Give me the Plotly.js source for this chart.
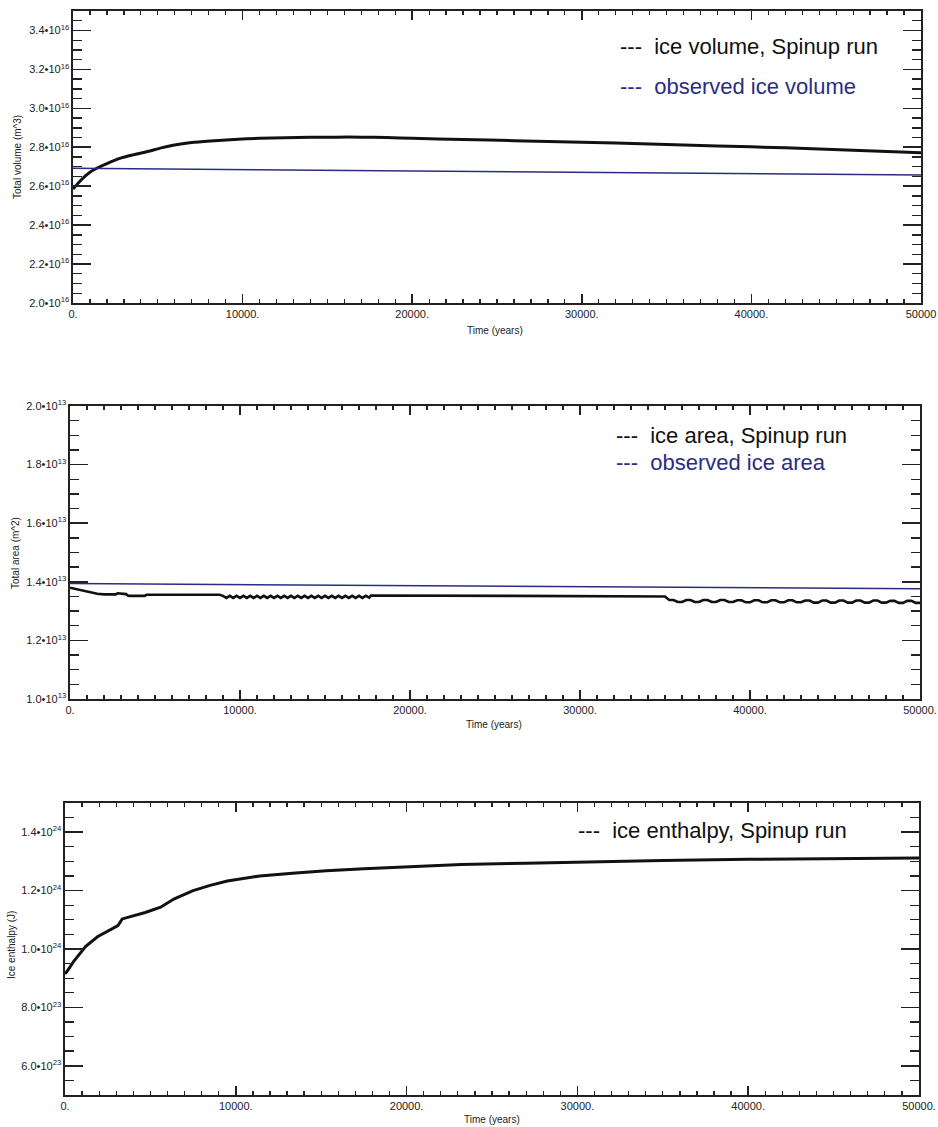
<!DOCTYPE html>
<html>
<head>
<meta charset="utf-8">
<script src="https://cdn.plot.ly/plotly-3.0.1.min.js"></script>
<style>
html,body{margin:0;padding:0;background:#fff;}
#chart{width:938px;height:1127px;}
</style>
</head>
<body>
<div id="chart"></div>
<script>
// ---------- DATA ----------
const timeTicks = [0, 10000, 20000, 30000, 40000, 50000];
const timeTickText1 = ["0.", "10000.", "20000.", "30000.", "40000.", "50000"];
const timeTickText = ["0.", "10000.", "20000.", "30000.", "40000.", "50000."];

// Panel 1: total volume (m^3)
const volTicks = [2.0e16, 2.2e16, 2.4e16, 2.6e16, 2.8e16, 3.0e16, 3.2e16, 3.4e16];
const volTickText = ["2.0•10<sup>16</sup>", "2.2•10<sup>16</sup>", "2.4•10<sup>16</sup>", "2.6•10<sup>16</sup>",
                     "2.8•10<sup>16</sup>", "3.0•10<sup>16</sup>", "3.2•10<sup>16</sup>", "3.4•10<sup>16</sup>"];
const volTime = [0, 300, 700, 1000, 1400, 2000, 2800, 3500, 4400, 5200, 5900, 7000, 8100, 9500, 11000,
                 12500, 14000, 15500, 17000, 18500, 20000, 23000, 26000, 30000, 34000, 38000, 42000, 46000, 50000];
const volSpinup = [2.585e16, 2.615e16, 2.650e16, 2.672e16, 2.692e16, 2.716e16, 2.744e16, 2.760e16, 2.778e16,
                   2.797e16, 2.810e16, 2.824e16, 2.832e16, 2.840e16, 2.846e16, 2.849e16, 2.851e16, 2.852e16,
                   2.852e16, 2.850e16, 2.846e16, 2.840e16, 2.834e16, 2.826e16, 2.817e16, 2.807e16, 2.797e16,
                   2.785e16, 2.772e16];
const volObsTime = [0, 50000];
const volObserved = [2.692e16, 2.657e16];

// Panel 2: total area (m^2)
const areaTicks = [1.0e13, 1.2e13, 1.4e13, 1.6e13, 1.8e13, 2.0e13];
const areaTickText = ["1.0•10<sup>13</sup>", "1.2•10<sup>13</sup>", "1.4•10<sup>13</sup>",
                      "1.6•10<sup>13</sup>", "1.8•10<sup>13</sup>", "2.0•10<sup>13</sup>"];
const areaTime = [0, 300, 600, 900, 1200, 1600, 2000, 2700, 2800, 3300, 3400, 3500, 4400, 4500, 8800,
  9000, 9200, 9400, 9600, 9800, 10000, 10200, 10400, 10600, 10800, 11000, 11200, 11400, 11600, 11800,
  12000, 12200, 12400, 12600, 12800, 13000, 13200, 13400, 13600, 13800, 14000, 14200, 14400, 14600,
  14800, 15000, 15200, 15400, 15600, 15800, 16000, 16200, 16400, 16600, 16800, 17000, 17200, 17400,
  17600, 17700, 26000, 35000,
  35250, 35500, 35750, 36000, 36250, 36500, 36750, 37000, 37250, 37500, 37750, 38000, 38250, 38500,
  38750, 39000, 39250, 39500, 39750, 40000, 40250, 40500, 40750, 41000, 41250, 41500, 41750, 42000,
  42250, 42500, 42750, 43000, 43250, 43500, 43750, 44000, 44250, 44500, 44750, 45000, 45250, 45500,
  45750, 46000, 46250, 46500, 46750, 47000, 47250, 47500, 47750, 48000, 48250, 48500, 48750, 49000,
  49250, 49500, 49750, 50000];
const areaSpinup = [1.380e13, 1.376e13, 1.371e13, 1.366e13, 1.362e13, 1.359e13, 1.357e13, 1.357e13, 1.361e13,
  1.358e13, 1.353e13, 1.352e13, 1.352e13, 1.356e13, 1.356e13,
  1.352e13, 1.345e13, 1.352e13, 1.345e13, 1.352e13, 1.345e13, 1.352e13, 1.345e13, 1.352e13, 1.345e13,
  1.352e13, 1.345e13, 1.352e13, 1.345e13, 1.352e13, 1.345e13, 1.352e13, 1.345e13, 1.352e13, 1.345e13,
  1.352e13, 1.345e13, 1.352e13, 1.345e13, 1.352e13, 1.345e13, 1.352e13, 1.345e13, 1.352e13, 1.345e13,
  1.352e13, 1.345e13, 1.352e13, 1.345e13, 1.352e13, 1.345e13, 1.352e13, 1.345e13, 1.352e13, 1.345e13,
  1.352e13, 1.345e13, 1.352e13, 1.346e13, 1.353e13, 1.352e13, 1.350e13,
  1.338e13, 1.338e13, 1.331e13, 1.331e13, 1.338e13, 1.338e13, 1.331e13, 1.331e13, 1.338e13, 1.338e13,
  1.331e13, 1.331e13, 1.338e13, 1.338e13, 1.331e13, 1.331e13, 1.337e13, 1.337e13, 1.330e13, 1.330e13,
  1.337e13, 1.337e13, 1.330e13, 1.330e13, 1.337e13, 1.337e13, 1.330e13, 1.330e13, 1.337e13, 1.337e13,
  1.330e13, 1.330e13, 1.336e13, 1.336e13, 1.329e13, 1.329e13, 1.336e13, 1.336e13, 1.329e13, 1.329e13,
  1.336e13, 1.336e13, 1.329e13, 1.329e13, 1.336e13, 1.336e13, 1.329e13, 1.329e13, 1.336e13, 1.336e13,
  1.329e13, 1.329e13, 1.335e13, 1.335e13, 1.328e13, 1.328e13, 1.335e13, 1.335e13, 1.328e13, 1.328e13,
  1.335e13, 1.335e13, 1.328e13, 1.328e13, 1.334e13];
const areaObsTime = [0, 50000];
const areaObserved = [1.394e13, 1.376e13];

// Panel 3: ice enthalpy (J)
const entTicks = [6.0e23, 8.0e23, 1.0e24, 1.2e24, 1.4e24];
const entTickText = ["6.0•10<sup>23</sup>", "8.0•10<sup>23</sup>", "1.0•10<sup>24</sup>",
                     "1.2•10<sup>24</sup>", "1.4•10<sup>24</sup>"];
const entTime = [0, 100, 500, 1200, 1900, 2800, 3100, 3350, 3800, 4700, 5600, 6400, 7500, 8500, 9500,
                 11400, 13500, 15300, 17500, 19300, 23200, 27000, 30000, 35000, 40000, 45000, 50000];
const entSpinup = [0.915e24, 0.922e24, 0.957e24, 1.008e24, 1.042e24, 1.072e24, 1.080e24, 1.103e24, 1.110e24,
                   1.125e24, 1.143e24, 1.172e24, 1.200e24, 1.218e24, 1.233e24, 1.250e24, 1.260e24, 1.268e24,
                   1.275e24, 1.280e24, 1.289e24, 1.294e24, 1.298e24, 1.303e24, 1.307e24, 1.310e24, 1.312e24];

// ---------- LAYOUT ----------
const W = 938, H = 1127;
const FONT = "Liberation Sans, Arial, Helvetica, sans-serif";
const BLUE = "#2b2d82";
const INK = "#222";
const px = v => v / W;
const py = v => 1 - v / H;

function xAxis(domain, anchor, ticktext) {
  return {
    domain: domain, anchor: anchor, range: [0, 50000],
    tickmode: "array", tickvals: timeTicks, ticktext: ticktext,
    ticks: "inside", ticklen: 9, tickwidth: 1.5, tickcolor: INK,
    minor: {tickmode: "linear", tick0: 0, dtick: 1000, ticks: "inside", ticklen: 4, tickwidth: 1.3, tickcolor: INK},
    showline: true, linecolor: INK, linewidth: 1.6, mirror: "ticks",
    showgrid: false, zeroline: false,
    tickfont: {family: FONT, size: 11, color: INK}
  };
}
function yAxis(domain, anchor, range, tickvals, ticktext, minorStep) {
  return {
    domain: domain, anchor: anchor, range: range,
    tickmode: "array", tickvals: tickvals, ticktext: ticktext,
    ticks: "inside", ticklen: 18, tickwidth: 1.6, tickcolor: INK,
    minor: {tickmode: "linear", tick0: 0, dtick: minorStep, ticks: "inside", ticklen: 9, tickwidth: 1.4, tickcolor: INK},
    showline: true, linecolor: INK, linewidth: 1.6, mirror: "ticks",
    showgrid: false, zeroline: false,
    tickfont: {family: FONT, size: 11, color: INK}
  };
}

const data = [
  {x: volTime, y: volSpinup, xaxis: "x", yaxis: "y", mode: "lines", line: {color: "#111", width: 3, shape: "spline", smoothing: 0.6}},
  {x: volObsTime, y: volObserved, xaxis: "x", yaxis: "y", mode: "lines", line: {color: BLUE, width: 1.5}},
  {x: areaTime, y: areaSpinup, xaxis: "x2", yaxis: "y2", mode: "lines", line: {color: "#111", width: 2.6}},
  {x: areaObsTime, y: areaObserved, xaxis: "x2", yaxis: "y2", mode: "lines", line: {color: BLUE, width: 1.5}},
  {x: entTime, y: entSpinup, xaxis: "x3", yaxis: "y3", mode: "lines", line: {color: "#111", width: 3}}
];

function ann(text, x, y, size, color, angle) {
  return {text: text, x: px(x), y: py(y), xref: "paper", yref: "paper",
          xanchor: angle ? "center" : "left", yanchor: "middle", showarrow: false,
          textangle: angle || 0, font: {family: FONT, size: size, color: color}};
}
function centered(text, x, y, size) {
  return {text: text, x: px(x), y: py(y), xref: "paper", yref: "paper",
          xanchor: "center", yanchor: "middle", showarrow: false,
          font: {family: FONT, size: size, color: INK}};
}

const layout = {
  width: W, height: H,
  margin: {l: 0, r: 0, t: 0, b: 0},
  paper_bgcolor: "#fff", plot_bgcolor: "#fff",
  showlegend: false,
  xaxis: xAxis([px(73), px(921)], "y", timeTickText1),
  yaxis: yAxis([py(303), py(11)], "x", [2.0e16, 3.5e16], volTicks, volTickText, 0.05e16),
  xaxis2: xAxis([px(70), px(920)], "y2", timeTickText),
  yaxis2: yAxis([py(699), py(406)], "x2", [1.0e13, 2.0e13], areaTicks, areaTickText, 0.05e13),
  xaxis3: xAxis([px(65), px(919)], "y3", timeTickText),
  yaxis3: yAxis([py(1095), py(803)], "x3", [5.0e23, 1.5e24], entTicks, entTickText, 0.05e24),
  annotations: [
    ann("---\u00a0\u00a0ice volume, Spinup run", 618, 47, 22, "#111"),
    ann("---\u00a0\u00a0observed ice volume", 618, 86, 22, BLUE),
    ann("---\u00a0\u00a0ice area, Spinup run", 614, 435, 22, "#111"),
    ann("---\u00a0\u00a0observed ice area", 614, 462, 22, BLUE),
    ann("---\u00a0\u00a0ice enthalpy, Spinup run", 576, 830, 22, "#111"),
    ann("Total volume (m^3)", 18, 157, 10, INK, -90),
    ann("Total area (m^2)", 16, 553, 10, INK, -90),
    ann("Ice enthalpy (J)", 11, 945, 10, INK, -90),
    centered("Time (years)", 495, 330, 10),
    centered("Time (years)", 494, 724, 10),
    centered("Time (years)", 492, 1119, 10)
  ]
};

Plotly.newPlot("chart", data, layout, {staticPlot: true, displayModeBar: false});
</script>
</body>
</html>
